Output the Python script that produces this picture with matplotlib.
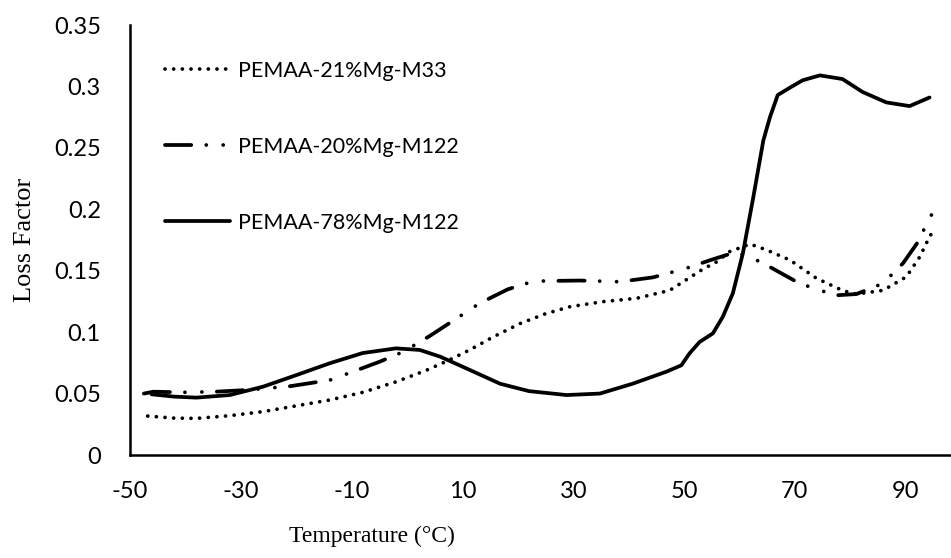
import matplotlib
matplotlib.use("Agg")
import matplotlib.pyplot as plt

plt.rcParams["axes.unicode_minus"] = False

# ---- data ----
t_m33 = [-46.8, -42, -38, -32, -26, -20, -13.9, -8, -1.9, 3.5, 7, 11.3, 15.5, 20.4, 25, 29.4,
         35.3, 41.4, 47.4, 53.3, 55.8, 58.2, 61.9, 64.9, 69.1, 73.9, 78.7, 81.1, 85.9, 90.1,
         92.5, 94.3, 95.2]
y_m33 = [0.0317, 0.030, 0.0298, 0.032, 0.0353, 0.040, 0.0448, 0.051, 0.0597, 0.069, 0.076,
         0.0855, 0.096, 0.107, 0.115, 0.1207, 0.1248, 0.1275, 0.134, 0.151, 0.157, 0.1655,
         0.1717, 0.1669, 0.1587, 0.1438, 0.1337, 0.131, 0.134, 0.145, 0.161, 0.1777, 0.184]

t_m122_20 = [-47.5, -45.8, -40.4, -34.7, -28.9, -21.1, -13.9, -8, -4.9, -0.7, 4.1, 8.9, 13.1,
             18.2, 21.6, 24.5, 31.2, 38.4, 44.4, 50.4, 55, 58.5, 61.2, 65.5, 70.3, 73.3, 77.5,
             81.1, 85.9, 89.5, 92, 94, 95.2]
y_m122_20 = [0.050, 0.0515, 0.051, 0.0515, 0.0529, 0.056, 0.061, 0.0708, 0.076, 0.084, 0.0969,
             0.111, 0.1235, 0.1349, 0.1397, 0.1416, 0.142, 0.141, 0.1446, 0.152, 0.159, 0.164,
             0.163, 0.153, 0.141, 0.1357, 0.130, 0.131, 0.1397, 0.156, 0.172, 0.190, 0.200]

t_m122_78 = [-46.1, -42, -38, -32, -26, -20, -14, -8, -2, 2.3, 6, 10.7, 16.8, 22, 28.8, 34.8,
             40.7, 46.8, 49.5, 51, 52.8, 55.2, 57, 58.8, 60.6, 62.4, 64.3, 65.5, 66.9, 69.1,
             71.4, 74.5, 78.6, 82.2, 86.5, 90.7, 94.3]
y_m122_78 = [0.0494, 0.0475, 0.0467, 0.0488, 0.0556, 0.065, 0.0746, 0.083, 0.0868, 0.0855,
             0.080, 0.0705, 0.058, 0.052, 0.0488, 0.050, 0.058, 0.0678, 0.073, 0.0828, 0.092,
             0.099, 0.1126, 0.1316, 0.164, 0.2075, 0.256, 0.275, 0.293, 0.299, 0.305, 0.309,
             0.306, 0.2955, 0.287, 0.284, 0.291]

labels = ["PEMAA-21%Mg-M33", "PEMAA-20%Mg-M122", "PEMAA-78%Mg-M122"]
x_ticks = [-50, -30, -10, 10, 30, 50, 70, 90]
y_ticks = [0, 0.05, 0.1, 0.15, 0.2, 0.25, 0.3, 0.35]
y_ticklabels = ["0", "0.05", "0.1", "0.15", "0.2", "0.25", "0.3", "0.35"]

# ---- figure ----
fig = plt.figure(figsize=(9.51, 5.58), dpi=100)
ax = fig.add_axes([130/951, 1-455/558, 1-130/951-0.001, (455-25)/558])

lw = 2.7
ax.plot(t_m33, y_m33, color="black", lw=lw, linestyle=(0, (0.01, 2.3)),
        dash_capstyle="round", label=labels[0])
ax.plot(t_m122_20, y_m122_20, color="black", lw=lw,
        linestyle=(0, (7, 4, 0.01, 4.5, 0.01, 4)), dash_capstyle="round", label=labels[1])
ax.plot(t_m122_78, y_m122_78, color="black", lw=lw, solid_capstyle="round",
        solid_joinstyle="round", label=labels[2])

ax.set_xlim(-50, 98)
ax.set_ylim(0, 0.35)
ax.set_xticks(x_ticks)
ax.set_yticks(y_ticks)
ax.set_yticklabels(y_ticklabels)
for s in ["top", "right"]:
    ax.spines[s].set_visible(False)
for s in ["left", "bottom"]:
    ax.spines[s].set_linewidth(1.8)
tick_font = "Lato"
ax.tick_params(axis="both", length=0, labelsize=17)
ax.tick_params(axis="x", pad=19)
ax.tick_params(axis="y", pad=21)
for lab in ax.get_xticklabels() + ax.get_yticklabels():
    lab.set_fontfamily(tick_font)

ax.set_xlabel("Temperature (°C)", family="Liberation Serif", fontsize=17)
ax.xaxis.set_label_coords(0.295, -0.19)
ax.xaxis.label.set_va("center")
ax.set_ylabel("Loss Factor", family="Liberation Serif", fontsize=19)
ax.yaxis.set_label_coords(-0.128, 0.5)
ax.yaxis.label.set_va("center")

leg = ax.legend(loc="upper left", bbox_to_anchor=(165/951, 1-61/558),
                bbox_transform=fig.transFigure, frameon=False, borderpad=0,
                borderaxespad=0, handlelength=3.0, handletextpad=0.4,
                labelspacing=2.6, prop={"family": tick_font, "size": 15.5})

fig.savefig("out.png", dpi=100)
